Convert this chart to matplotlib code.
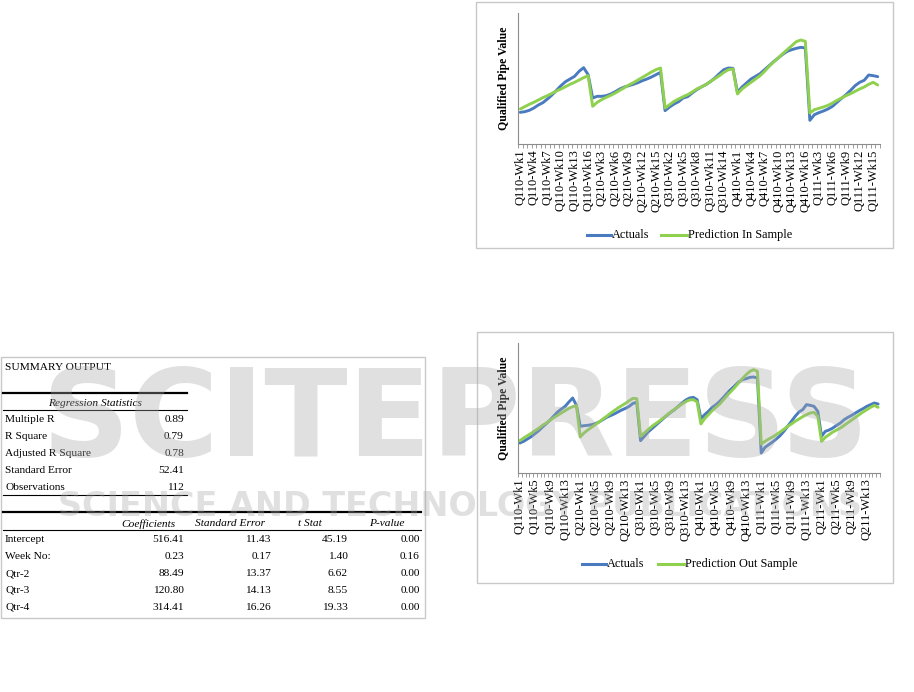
import numpy as np
import matplotlib
matplotlib.use("Agg")
import matplotlib.pyplot as plt
from matplotlib.patches import Rectangle
from matplotlib.lines import Line2D

W, H = 914, 692
SERIF = ["Liberation Serif", "DejaVu Serif"]
BLUE = "#4a7bc0"
GREEN = "#8fd14f"

# Categories: 16 weeks per quarter.
quarters_in = ["Q110", "Q210", "Q310", "Q410", "Q111"]
quarters_out = ["Q110", "Q210", "Q310", "Q410", "Q111", "Q211"]
weeks = 16

# In-sample chart (arbitrary units).
actual_in = [95, 97, 101, 108, 117, 124, 135, 147, 161, 175, 187, 195, 203, 218, 229, 208,
             138, 143, 143, 145, 150, 157, 165, 171, 175, 179, 184, 190, 195, 201, 208, 215,
             100, 111, 120, 127, 138, 142, 153, 163, 171, 178, 187, 198, 211, 223, 228, 227,
             155, 171, 183, 195, 203, 211, 223, 235, 247, 258, 269, 278, 283, 287, 290, 288,
             71, 88, 94, 99, 105, 113, 125, 137, 148, 161, 175, 185, 191, 207, 205, 202]
pred_in = [105, 112, 119, 125, 132, 139, 145, 152, 159, 165, 172, 179, 185, 192, 199, 205,
           113, 125, 133, 140, 146, 153, 161, 169, 177, 184, 192, 200, 208, 216, 223, 228,
           108, 118, 128, 135, 142, 148, 156, 165, 171, 178, 187, 196, 205, 215, 223, 225,
           150, 165, 175, 185, 195, 205, 218, 233, 246, 258, 271, 283, 295, 307, 312, 308,
           93, 103, 107, 111, 116, 123, 131, 138, 145, 151, 158, 165, 171, 179, 185, 177]

# Out-of-sample chart.
actual_out = [90, 95, 102, 109, 118, 127, 138, 148, 159, 171, 183, 192, 200, 213, 225, 203,
              140, 142, 143, 145, 148, 153, 160, 167, 172, 177, 183, 189, 194, 200, 209, 212,
              97, 110, 123, 133, 143, 153, 163, 173, 182, 190, 200, 210, 219, 225, 227, 220,
              163, 175, 185, 197, 205, 215, 227, 240, 252, 262, 273, 280, 283, 287, 288, 285,
              60, 77, 85, 93, 102, 112, 125, 140, 155, 170, 183, 190, 205, 203, 200, 185,
              110, 125, 129, 135, 143, 150, 160, 167, 173, 180, 187, 193, 200, 205, 210, 207]
pred_out = [97, 105, 112, 119, 127, 134, 143, 150, 158, 166, 173, 180, 187, 194, 199, 202,
            108, 120, 129, 137, 145, 153, 162, 170, 179, 187, 195, 202, 209, 217, 224, 223,
            110, 120, 130, 140, 148, 156, 165, 174, 183, 191, 199, 207, 214, 219, 220, 213,
            147, 163, 175, 187, 197, 207, 220, 233, 245, 257, 270, 283, 295, 305, 310, 305,
            87, 95, 102, 108, 115, 123, 131, 140, 147, 155, 162, 169, 175, 180, 182, 170,
            95, 107, 115, 123, 129, 135, 143, 151, 159, 167, 175, 183, 190, 197, 203, 197]

# Regression table.
reg_stat_names = ["Multiple R", "R Square", "Adjusted R Square", "Standard Error", "Observations"]
reg_stat_values = ["0.89", "0.79", "0.78", "52.41", "112"]
coef_headers = ["Coefficients", "Standard Error", "t Stat", "P-value"]
coef_names = ["Intercept", "Week No:", "Qtr-2", "Qtr-3", "Qtr-4"]
coefficients = ["516.41", "0.23", "88.49", "120.80", "314.41"]
std_errors = ["11.43", "0.17", "13.37", "14.13", "16.26"]
t_stats = ["45.19", "1.40", "6.62", "8.55", "19.33"]
p_values = ["0.00", "0.16", "0.00", "0.00", "0.00"]


def fx(x):
    return x / W


def fy(y):
    return 1 - y / H


def make_labels(quarters):
    return [q + "-Wk" + str(w) for q in quarters for w in range(1, weeks + 1)]


def draw_chart(fig, box, area, actual, pred, quarters, every, ymax, legend_y, legend_x, pred_name):
    # outer chart border
    fig.add_artist(Rectangle((fx(box[0]), fy(box[3])), fx(box[2] - box[0]), (box[3] - box[1]) / H,
                             transform=fig.transFigure, fill=False, edgecolor="#c8c8c8", linewidth=1))
    left, top, right, bottom = area
    ax = fig.add_axes([fx(left), fy(bottom), fx(right - left), (bottom - top) / H])
    labels = make_labels(quarters)
    n = len(labels)
    x = np.arange(n)
    ax.plot(x, actual, color=BLUE, linewidth=2.1, solid_capstyle="round")
    ax.plot(x, pred, color=GREEN, linewidth=2.1, solid_capstyle="round")
    ax.set_xlim(-0.5, n - 0.5)
    ax.set_ylim(0, ymax)
    ax.set_yticks([])
    for s in ["top", "right"]:
        ax.spines[s].set_visible(False)
    for s in ["left", "bottom"]:
        ax.spines[s].set_color("#8c8c8c")
        ax.spines[s].set_linewidth(0.8)
    ax.set_xticks(np.arange(-0.5, n, 1.0), minor=True)
    ax.set_xticks(x[::every])
    ax.set_xticklabels(labels[::every], rotation=90, fontsize=9, family=SERIF)
    ax.tick_params(axis="x", which="major", length=0, pad=4)
    ax.tick_params(axis="x", which="minor", length=3, color="#8c8c8c", width=0.6)
    ax.set_ylabel("Qualified Pipe Value", family=SERIF, fontweight="bold", fontsize=8.5, labelpad=6)
    ax.patch.set_alpha(0)
    # legend drawn manually to match placement
    bx, gx = legend_x
    fig.add_artist(Line2D([fx(bx), fx(bx + 24)], [fy(legend_y)] * 2, color=BLUE, linewidth=2.2,
                          transform=fig.transFigure))
    fig.text(fx(bx + 25), fy(legend_y), "Actuals", family=SERIF, fontsize=8.8, va="center")
    fig.add_artist(Line2D([fx(gx), fx(gx + 26)], [fy(legend_y)] * 2, color=GREEN, linewidth=2.2,
                          transform=fig.transFigure))
    fig.text(fx(gx + 27), fy(legend_y), pred_name, family=SERIF, fontsize=8.8, va="center")
    return ax


fig = plt.figure(figsize=(W / 100, H / 100), dpi=100)

draw_chart(fig, (476, 2, 893, 248), (518, 13, 880, 144), actual_in, pred_in, quarters_in, 3,
           393, 235, (587, 661), "Prediction In Sample")
draw_chart(fig, (477, 332, 893, 583), (518, 343, 880, 473), actual_out, pred_out, quarters_out, 4,
           390, 564, (582, 658), "Prediction Out Sample")

# summary table
fig.add_artist(Rectangle((fx(0.5), fy(618)), fx(424), (618 - 357) / H, transform=fig.transFigure,
                         fill=False, edgecolor="#c8c8c8", linewidth=1))
tkw = dict(family=SERIF, fontsize=8.2, va="center")
fig.text(fx(5), fy(368), "SUMMARY OUTPUT", **tkw)


def hline(x0, x1, y, lw):
    fig.add_artist(Line2D([fx(x0), fx(x1)], [fy(y), fy(y)], color="black", linewidth=lw,
                          transform=fig.transFigure))


hline(3, 187, 393, 1.6)
fig.text(fx(95), fy(403), "Regression Statistics", style="italic", ha="center", **tkw)
hline(3, 187, 410, 0.8)
for i, (name, val) in enumerate(zip(reg_stat_names, reg_stat_values)):
    y = 420 + i * 16.8
    fig.text(fx(5), fy(y), name, **tkw)
    fig.text(fx(184), fy(y), val, ha="right", **tkw)
hline(3, 187, 495, 0.8)

hline(3, 421, 512, 1.6)
col_right = [184, 271, 348, 420]
head_right = [175, 265, 322, 404]
for hx, name in zip(head_right, coef_headers):
    fig.text(fx(hx), fy(524), name, style="italic", ha="right", **tkw)
hline(3, 421, 530, 0.8)
for i, name in enumerate(coef_names):
    y = 540 + i * 16.8
    fig.text(fx(5), fy(y), name, **tkw)
    for cx, col in zip(col_right, [coefficients, std_errors, t_stats, p_values]):
        fig.text(fx(cx), fy(y), col[i], ha="right", **tkw)

# faint publisher watermark across the page
fig.text(fx(455), fy(422), "SCITEPRESS", fontsize=88, fontweight="bold", color="#a8a8a8",
         alpha=0.35, ha="center", va="center", family="DejaVu Sans", zorder=10)
fig.text(fx(460), fy(506), "SCIENCE AND TECHNOLOGY PUBLICATIONS", fontsize=24, fontweight="bold",
         color="#a8a8a8", alpha=0.35, ha="center", va="center", family="DejaVu Sans", zorder=10)

fig.savefig("out.png", dpi=100)
